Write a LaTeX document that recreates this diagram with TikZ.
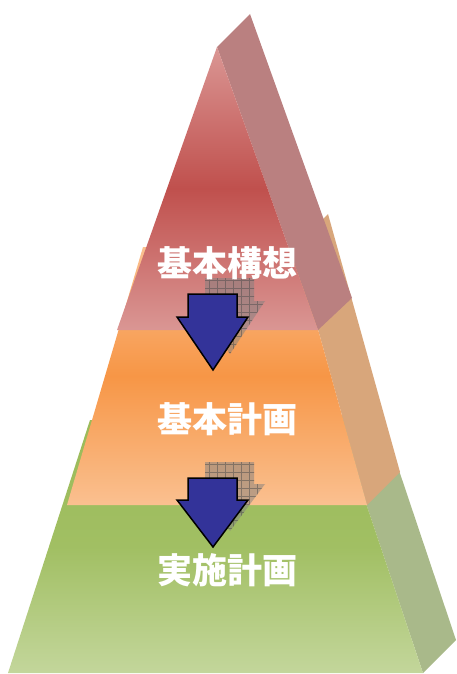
\documentclass[tikz,border=0pt]{standalone}
\usepackage{fontspec}
\newfontfamily\jpfont{Noto Sans CJK JP}
\definecolor{redlight}{HTML}{DA9694}
\definecolor{reddark}{HTML}{C0504D}
\definecolor{redside}{HTML}{BA8080}
\definecolor{orangelight}{HTML}{FAC090}
\definecolor{orangedark}{HTML}{F79646}
\definecolor{orangeside}{HTML}{D8A67B}
\definecolor{greendark}{HTML}{9BBB59}
\definecolor{greenlight}{HTML}{C3D69B}
\definecolor{greenside}{HTML}{A9B98A}
\definecolor{arrowblue}{HTML}{333399}
\definecolor{shadowgrey}{HTML}{808080}
\begin{document}
\begin{tikzpicture}[x=1pt, y=-1pt,
    layertext/.style={text=white, font=\jpfont\bfseries\fontsize{35}{40}\selectfont},
    blockarrow/.style={fill=arrowblue, draw=black, line width=1.5pt, line join=miter},
    arrowshadow/.style={fill=shadowgrey, fill opacity=0.5}]
    \useasboundingbox (0,0) rectangle (456,674);
    % bottom layer
    \fill[greenside] (338,420) -- (371,387) -- (456,640) -- (423,673) -- cycle;
    \shade[top color=greendark, bottom color=greenlight, middle color=greendark!85!greenlight] (90,420) -- (338,420) -- (423,673) -- (8,673) -- cycle;
    % middle layer
    \fill[orangeside] (295,247) -- (328,214) -- (400,472) -- (367,505) -- cycle;
    \shade[top color=orangelight, bottom color=orangelight, middle color=orangedark] (143,247) -- (295,247) -- (367,505) -- (67,505) -- cycle;
    % top layer
    \fill[redside] (217,47) -- (250,14) -- (352,298) -- (318,330) -- cycle;
    \shade[top color=redlight, bottom color=redlight, middle color=reddark] (217,47) -- (318,330) -- (117,330) -- cycle;
    % arrows with grid shadow
    \foreach \ytop/\yneck/\ytip in {294/317/370, 478/500/547} {
        \begin{scope}[shift={(17,-16)}]
            \fill[arrowshadow] (188,\ytop) -- (237,\ytop) -- (237,\yneck) -- (248,\yneck) -- (213,\ytip) -- (177,\yneck) -- (188,\yneck) -- cycle;
            \clip (188,\ytop) -- (237,\ytop) -- (237,\yneck) -- (248,\yneck) -- (213,\ytip) -- (177,\yneck) -- (188,\yneck) -- cycle;
            \draw[gray!60!black, draw opacity=0.5, line width=0.4pt, step=8pt] (168,\ytop) grid (264,\ytip);
        \end{scope}
        \draw[blockarrow] (188,\ytop) -- (237,\ytop) -- (237,\yneck) -- (248,\yneck) -- (213,\ytip) -- (177,\yneck) -- (188,\yneck) -- cycle;
    }
    % labels
    \node[layertext] (kousou) at (227,263) {基本構想};
    \node[layertext] (keikaku) at (227,419) {基本計画};
    \node[layertext] (jisshi) at (227,570) {実施計画};
\end{tikzpicture}
\end{document}
